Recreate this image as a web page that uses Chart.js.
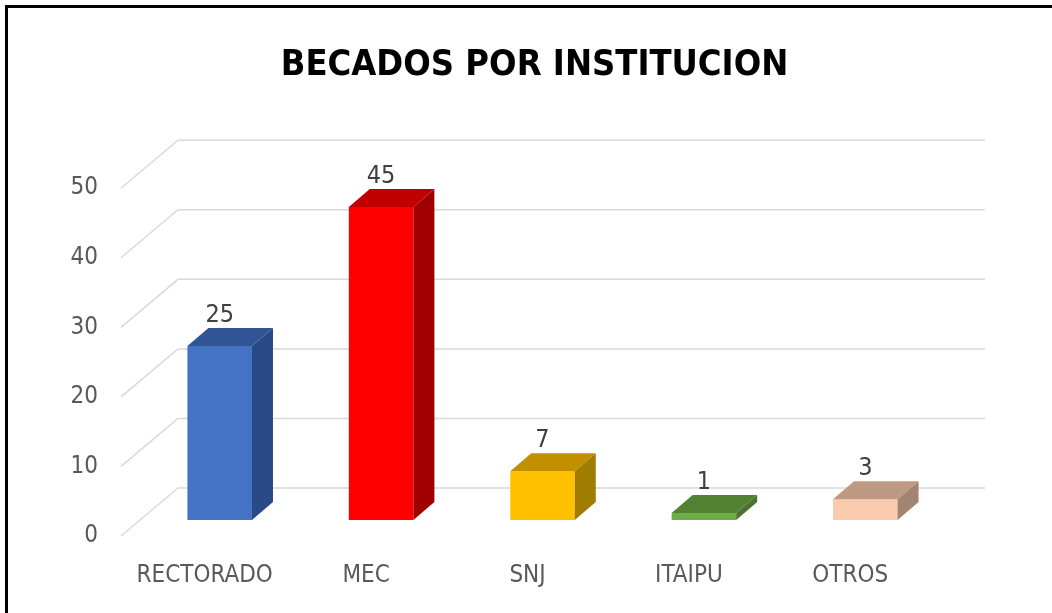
<!DOCTYPE html>
<html>
<head>
<meta charset="utf-8">
<title>Becados por institucion</title>
<script src="https://cdn.jsdelivr.net/npm/chart.js@4/dist/chart.umd.min.js"></script>
<style>
  html, body { margin: 0; padding: 0; background: #fff; }
  #wrap { position: relative; width: 1052px; height: 613px; }
  #frame {
    position: absolute; left: 5px; top: 5px; right: 0; bottom: 0;
    border-top: 3px solid #000; border-left: 3px solid #000;
    pointer-events: none;
  }
</style>
</head>
<body>
<div id="wrap">
  <canvas id="myChart"></canvas>
  <div id="frame"></div>
</div>
<script>
// chart data
const categories = ['RECTORADO', 'MEC', 'SNJ', 'ITAIPU', 'OTROS'];
const becados = [25, 45, 7, 1, 3];
const tickValues = [0, 10, 20, 30, 40, 50];

// colours of the 3d boxes: front, top, side
const frontColors = ['#4472C4', '#FF0000', '#FFC000', '#70AD47', '#F8CBAD'];
const topColors = ['#2F5597', '#C00000', '#C09000', '#548235', '#BF9A83'];
const sideColors = ['#2A4A85', '#A00000', '#A07D00', '#4A7230', '#A3846F'];

const FONT = "'DejaVu Sans Condensed', 'Liberation Sans Narrow', sans-serif";

// depth of each box, and where the back wall / floor front sit compared to the bars
const depth = { dx: 21, dy: -18 };
const backWall = { dx: 39, dy: -32 };
const floorFront = { dx: -18, dy: 16 };

// back wall gridlines with the slanted side wall
const wallPlugin = {
  id: 'wall',
  beforeDatasetsDraw(chart) {
    const ctx = chart.ctx;
    const y = chart.scales.y;
    const area = chart.chartArea;
    ctx.save();
    ctx.strokeStyle = '#D9D9D9';
    ctx.lineWidth = 1.5;
    tickValues.forEach((v) => {
      const py = y.getPixelForValue(v) + backWall.dy;
      const px = area.left + backWall.dx;
      ctx.beginPath();
      ctx.moveTo(area.left + floorFront.dx, y.getPixelForValue(v) + floorFront.dy);
      ctx.lineTo(px, py);
      ctx.lineTo(area.right + backWall.dx, py);
      ctx.stroke();
    });
    ctx.restore();
  },
};

// top and side faces of the boxes, then the value labels
const boxPlugin = {
  id: 'box3d',
  afterDatasetsDraw(chart) {
    const ctx = chart.ctx;
    const meta = chart.getDatasetMeta(0);
    ctx.save();
    meta.data.forEach((bar, i) => {
      const x0 = bar.x - bar.width / 2;
      const x1 = bar.x + bar.width / 2;
      const top = bar.y;
      const base = bar.base;

      ctx.fillStyle = topColors[i];
      ctx.beginPath();
      ctx.moveTo(x0, top);
      ctx.lineTo(x0 + depth.dx, top + depth.dy);
      ctx.lineTo(x1 + depth.dx, top + depth.dy);
      ctx.lineTo(x1, top);
      ctx.closePath();
      ctx.fill();

      ctx.fillStyle = sideColors[i];
      ctx.beginPath();
      ctx.moveTo(x1, top);
      ctx.lineTo(x1 + depth.dx, top + depth.dy);
      ctx.lineTo(x1 + depth.dx, base + depth.dy);
      ctx.lineTo(x1, base);
      ctx.closePath();
      ctx.fill();

      ctx.fillStyle = '#404040';
      ctx.font = '25px ' + FONT;
      ctx.textAlign = 'center';
      ctx.textBaseline = 'alphabetic';
      ctx.fillText(String(becados[i]), bar.x, top - 24);
    });
    ctx.restore();
  },
};

const canvas = document.getElementById('myChart');

const chart = new Chart(canvas, {
  type: 'bar',
  data: {
    labels: categories,
    datasets: [
      {
        label: 'Becados',
        data: becados,
        backgroundColor: frontColors,
        borderWidth: 0,
        categoryPercentage: 1,
        barPercentage: 0.4,
      },
    ],
  },
  options: {
    responsive: true,
    maintainAspectRatio: false,
    animation: false,
    layout: {
      padding: { top: 0, left: 60, right: 43, bottom: 0 },
    },
    plugins: {
      legend: { display: false },
      tooltip: { enabled: false },
      title: {
        display: true,
        text: 'BECADOS POR INSTITUCION',
        color: '#000000',
        font: { family: FONT, size: 36, weight: 'bold', lineHeight: 1.2 },
        padding: { top: 44, bottom: 85 },
      },
    },
    scales: {
      x: {
        grid: { display: false },
        border: { display: false },
        ticks: {
          color: '#595959',
          font: { family: FONT, size: 24 },
          labelOffset: -15,
          padding: 33,
          maxRotation: 0,
        },
        afterFit: (scale) => { scale.height = 93; },
      },
      y: {
        min: 0,
        max: 50,
        grid: { display: false },
        border: { display: false },
        ticks: {
          stepSize: 10,
          color: '#595959',
          font: { family: FONT, size: 24 },
          padding: 33,
          labelOffset: 16,
        },
        afterFit: (scale) => { scale.width = 79; },
      },
      // empty axis on the right, only keeps the plot clear of the right edge
      yRight: {
        position: 'right',
        grid: { display: false },
        border: { display: false },
        ticks: { display: false },
        afterFit: (scale) => { scale.width = 63; },
      },
    },
  },
  plugins: [wallPlugin, boxPlugin],
});
</script>
</body>
</html>
